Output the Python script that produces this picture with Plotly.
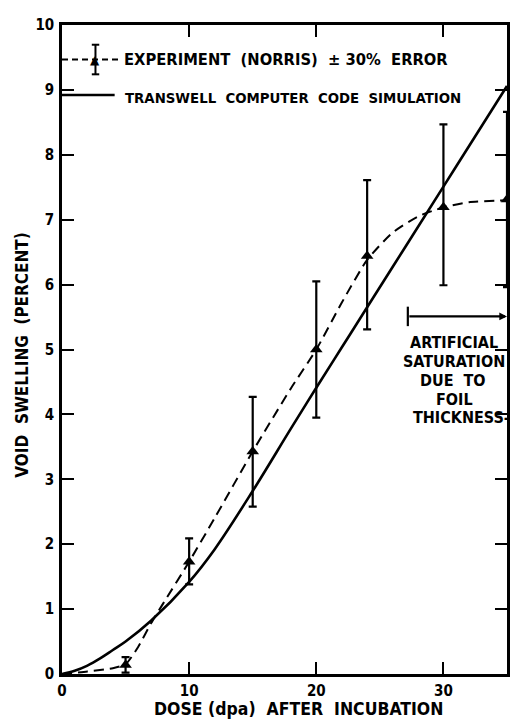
import plotly.graph_objects as go

# ---- data ----
exp_dose = [5, 10, 15, 20, 24, 30, 35]
exp_swell = [0.14, 1.73, 3.43, 5.0, 6.44, 7.19, 7.31]
exp_err_plus = [0.12, 0.36, 0.84, 1.05, 1.17, 1.28, 1.35]
exp_err_minus = [0.12, 0.35, 0.85, 1.05, 1.13, 1.2, 1.35]

exp_curve_dose = [0, 2, 4, 5, 6, 7, 8, 10, 12, 15, 18, 20, 22, 24, 26, 28, 30, 32, 35]
exp_curve_swell = [0, 0.04, 0.09, 0.15, 0.42, 0.78, 1.1, 1.73, 2.4, 3.43, 4.4, 5.0, 5.72,
                   6.38, 6.8, 7.05, 7.19, 7.27, 7.3]

sim_dose = [0, 1, 2, 3, 4, 5, 7, 10, 12, 15, 18, 20, 22, 24, 27, 30, 33, 35]
sim_swell = [0, 0.05, 0.13, 0.24, 0.37, 0.5, 0.82, 1.42, 1.92, 2.82, 3.78, 4.41, 5.03,
             5.65, 6.58, 7.51, 8.44, 9.06]

x_ticks = [0, 10, 20, 30]
y_ticks = list(range(0, 11))

x_title = "DOSE (dpa)  AFTER  INCUBATION"
y_title = "VOID  SWELLING  (PERCENT)"
legend_exp = "EXPERIMENT  (NORRIS)  ± 30%  ERROR"
legend_sim = "TRANSWELL  COMPUTER  CODE  SIMULATION"
note_lines = ["ARTIFICIAL", "SATURATION", "DUE  TO", "FOIL", "THICKNESS-"]

# ---- layout geometry (page body has an 8px margin) ----
OFF = 8
W, H = 518 - OFF, 726 - OFF
L, R, T, B = 54, 8, 8, 52
PW, PH = W - L - R, H - T - B
FONT = "DejaVu Sans Condensed, DejaVu Sans"


def px(p):  # screen x pixel -> paper
    return (p - OFF - L) / PW


def py(p):  # screen y pixel -> paper
    return (H - B - (p - OFF)) / PH


def f(size):
    return dict(family=FONT, size=size, color="black", weight="bold")


fig = go.Figure()

fig.add_trace(go.Scatter(
    x=exp_curve_dose, y=exp_curve_swell, mode="lines",
    line=dict(color="black", width=2, dash="10px,6px", shape="spline", smoothing=0.6),
    hoverinfo="skip", showlegend=False))

fig.add_trace(go.Scatter(
    x=sim_dose, y=sim_swell, mode="lines",
    line=dict(color="black", width=2.6, shape="spline", smoothing=1.0),
    showlegend=False))

fig.add_trace(go.Scatter(
    x=exp_dose, y=exp_swell, mode="markers",
    marker=dict(symbol="triangle-up", size=11, color="black"),
    error_y=dict(type="data", array=exp_err_plus, arrayminus=exp_err_minus,
                 color="black", thickness=2.2, width=4),
    cliponaxis=False, showlegend=False))

axis_common = dict(
    showline=True, linecolor="black", linewidth=2.5, mirror="ticks",
    ticks="inside", ticklen=12, tickwidth=2, tickcolor="black",
    showgrid=False, zeroline=False,
    tickfont=f(15),
)

fig.update_xaxes(range=[0, 35], tickvals=x_ticks, ticktext=[str(v) for v in x_ticks],
                 ticklabelstandoff=1, **axis_common)
fig.update_yaxes(range=[0, 10], tickvals=y_ticks, ticktext=[str(v) for v in y_ticks],
                 ticklabelstandoff=2, **axis_common)

annotations = []
shapes = []

# axis titles
annotations.append(dict(xref="paper", yref="paper", x=px(300), y=py(709),
                        text=x_title, showarrow=False, xanchor="center", yanchor="middle",
                        font=f(17.5)))
annotations.append(dict(xref="paper", yref="paper", x=px(22), y=py(351),
                        text=y_title, showarrow=False, textangle=-90,
                        xanchor="center", yanchor="middle", font=f(17)))

# legend: experiment entry
shapes.append(dict(type="line", xref="paper", yref="paper", x0=px(62), x1=px(121),
                   y0=py(51), y1=py(51), line=dict(color="black", width=2, dash="6px,4px")))
shapes.append(dict(type="line", xref="paper", yref="paper", x0=px(95.7), x1=px(95.7),
                   y0=py(36), y1=py(66), line=dict(color="black", width=2)))
for yy in (36, 66):
    shapes.append(dict(type="line", xref="paper", yref="paper", x0=px(92), x1=px(99.5),
                       y0=py(yy), y1=py(yy), line=dict(color="black", width=2)))
annotations.append(dict(xref="paper", yref="paper", x=px(95.7), y=py(51), text="▲",
                        showarrow=False, xanchor="center", yanchor="middle",
                        font=dict(family="DejaVu Sans", size=12, color="black")))
annotations.append(dict(xref="paper", yref="paper", x=px(122), y=py(51), text=legend_exp,
                        showarrow=False, xanchor="left", yanchor="middle", font=f(16.4)))
# legend: simulation entry
shapes.append(dict(type="line", xref="paper", yref="paper", x0=px(62), x1=px(115),
                   y0=py(87), y1=py(87), line=dict(color="black", width=2.6)))
annotations.append(dict(xref="paper", yref="paper", x=px(123), y=py(89), text=legend_sim,
                        showarrow=False, xanchor="left", yanchor="middle", font=f(14.8)))

# saturation bracket
shapes.append(dict(type="line", xref="x", yref="y", x0=27.2, x1=27.2, y0=5.36, y1=5.66,
                   line=dict(color="black", width=2.2)))
annotations.append(dict(xref="x", yref="y", axref="x", ayref="y", x=35, y=5.51,
                        ax=27.2, ay=5.51, text="", showarrow=True, arrowhead=2,
                        arrowsize=0.7, arrowwidth=2.2, arrowcolor="black"))

note_y_px = [338, 356.7, 376.7, 396, 414]
note_x_px = [457, 457, 456, 457, 464]
for t, xp, yp in zip(note_lines, note_x_px, note_y_px):
    annotations.append(dict(xref="paper", yref="paper", x=px(xp), y=py(yp), text=t,
                            showarrow=False, xanchor="center", yanchor="middle", font=f(16)))

fig.update_layout(
    width=W, height=H,
    margin=dict(l=L, r=R, t=T, b=B),
    paper_bgcolor="white", plot_bgcolor="white",
    annotations=annotations, shapes=shapes,
    showlegend=False,
)

fig.write_html("out.html")
